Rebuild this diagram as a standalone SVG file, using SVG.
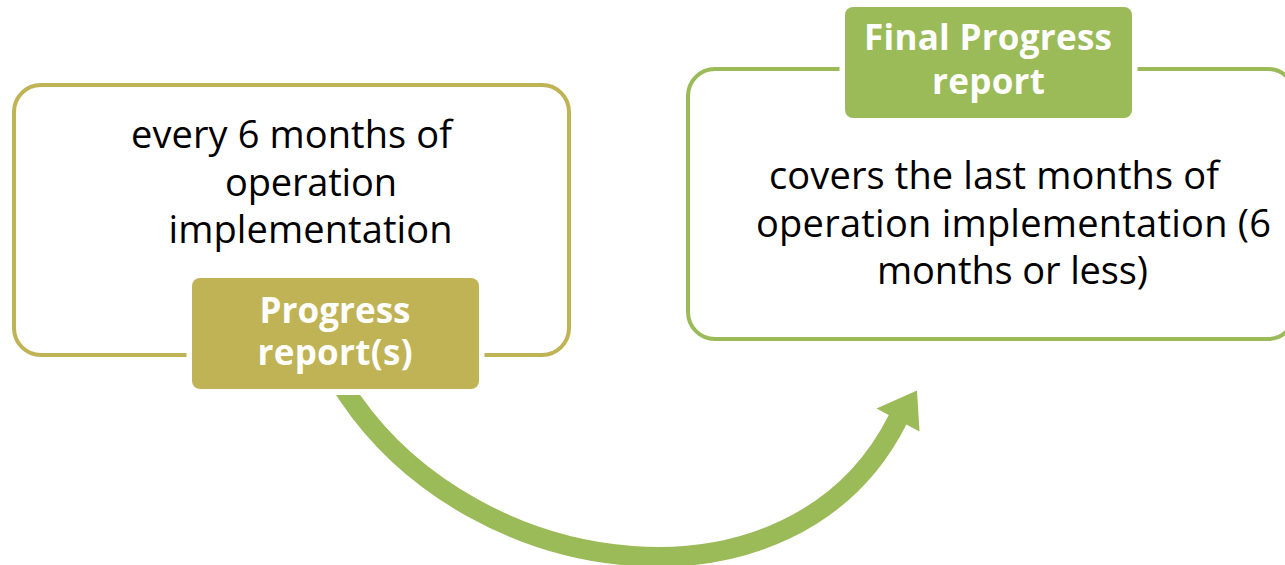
<svg xmlns="http://www.w3.org/2000/svg" width="1285" height="565" viewBox="0 0 1285 565">
  <style>
    .box{fill:#ffffff;stroke-width:4}
    .olive{stroke:#C0B356}
    .green{stroke:#9BBB59}
    .lbl{stroke:#ffffff;stroke-width:11;paint-order:stroke}
    .t{font-family:'Open Sans','Liberation Sans',sans-serif;font-size:38px;fill:#000000;text-anchor:middle;font-variant-ligatures:none}
    .tb{font-family:'Open Sans','Liberation Sans',sans-serif;font-size:35px;font-weight:bold;fill:#ffffff;text-anchor:middle;font-variant-ligatures:none}
  </style>
  <defs>
    <clipPath id="arrowClip">
      <rect x="0" y="395" width="1285" height="200"/>
    </clipPath>
  </defs>
  <rect width="1285" height="565" fill="#ffffff"/>

  <g id="progress-reports">
    <rect class="box olive" x="14" y="85" width="555" height="270" rx="27"/>
    <text class="t" x="291.5" y="148" textLength="321">every 6 months of</text>
    <text class="t" x="311" y="195.5" textLength="172">operation</text>
    <text class="t" x="310.5" y="243" textLength="284">implementation</text>
    <rect class="lbl" x="192" y="278" width="287" height="111" rx="8" fill="#C0B356"/>
    <text class="tb" x="335" y="322.5" textLength="151">Progress</text>
    <text class="tb" x="335" y="365" textLength="155">report(s)</text>
  </g>

  <g id="final-progress-report">
    <rect class="box green" x="688" y="69" width="607" height="270" rx="27"/>
    <text class="t" x="994" y="189" textLength="450">covers the last months of</text>
    <text class="t" x="1013.5" y="236.5" textLength="515">operation implementation (6</text>
    <text class="t" x="1012.5" y="284" textLength="271">months or less)</text>
    <rect class="lbl" x="845" y="7" width="287" height="111" rx="8" fill="#9BBB59"/>
    <text class="tb" x="988" y="50" textLength="248">Final Progress</text>
    <text class="tb" x="988.5" y="93.5" textLength="113">report</text>
  </g>

  <g id="connectors">
    <path d="M341.3,385 L348,395 C476,586 794,624.7 897.5,420 L899,417" fill="none" stroke="#9BBB59" stroke-width="20" clip-path="url(#arrowClip)"/>
    <polygon points="876.5,408.5 917,390.5 919.5,431.5" fill="#9BBB59"/>
  </g>
</svg>
